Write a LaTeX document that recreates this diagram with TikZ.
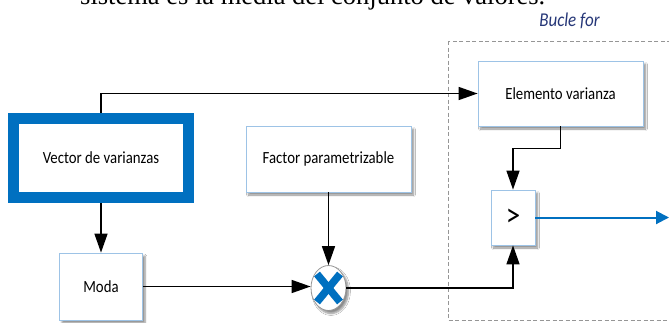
\documentclass[tikz,border=0pt]{standalone}
\usepackage{fontspec}
\setmainfont{Carlito}
\newfontfamily\serifx{Liberation Serif}
\usetikzlibrary{arrows.meta,shapes.geometric,shadows.blur}
\definecolor{boxedge}{RGB}{157,195,230}
\definecolor{vblue}{RGB}{0,112,192}
\definecolor{navy}{RGB}{38,55,120}
\definecolor{dashgray}{RGB}{150,150,150}
\newcommand\stretchtx[1]{\scalebox{1}[1.15]{#1}}
\begin{document}
\begin{tikzpicture}[x=1pt,y=-1pt,
  boxshadow/.style={blur shadow={shadow xshift=2.5pt,shadow yshift=-3pt,shadow blur steps=6,shadow opacity=45}},
  boxfont/.style={font=\fontsize{14.8}{16}\selectfont},
  lbox/.style={draw=boxedge,line width=0.8pt,fill=white,boxshadow,inner sep=0pt,boxfont},
  conn/.style={draw=black,line width=1.5pt,-{Triangle[length=19pt,width=13pt]}},
  bconn/.style={draw=vblue,line width=2pt,-{Triangle[length=13pt,width=13pt]}}
]
\useasboundingbox (0,0) rectangle (669,322);
\clip (0,0) rectangle (669,322);
\fill[white] (0,0) rectangle (669,322);

% caption fragment and loop label
\node[anchor=base west,inner sep=0pt,font=\serifx\fontsize{26.5}{30}\selectfont] (cap) at (80,4.5) {sistema es la media del conjunto de valores.};
\node[inner sep=0pt,text=navy,font=\itshape\fontsize{17}{19}\selectfont] (loop) at (569.5,21) {\stretchtx{Bucle for}};
\draw[dashgray,line width=0.8pt,dash pattern=on 4pt off 2.5pt] (448,41) rectangle (690,320);

% nodes
\node[draw=vblue,line width=11pt,fill=white,boxshadow,inner sep=0pt,minimum width=175pt,minimum height=79pt,boxfont] (vec) at (101,158) {\stretchtx{Vector de varianzas}};
\node[lbox,minimum width=165pt,minimum height=66pt] (fac) at (328.5,159) {\stretchtx{Factor parametrizable}};
\node[lbox,minimum width=83pt,minimum height=67pt] (moda) at (101,286.5) {\stretchtx{Moda}};
\node[lbox,minimum width=165pt,minimum height=65pt] (elem) at (560.5,93.5) {\stretchtx{Elemento varianza}};
\node[lbox,minimum width=44pt,minimum height=55pt,font=\fontsize{29}{30}\selectfont] (gt) at (513,217.5) {\stretchtx{>}};
\node[ellipse,draw=dashgray,line width=0.8pt,fill=white,boxshadow,inner sep=0pt,minimum width=35pt,minimum height=45pt] (circ) at (328.5,288) {};
\draw[vblue,line width=7.5pt] (circ.center) ++(-11.5,-14) -- ++(23,28);
\draw[vblue,line width=7.5pt] (circ.center) ++(11.5,-14) -- ++(-23,28);

\coordinate (out) at (669,217.5);

% connectors
\draw[conn] (vec.north) |- (elem.west);
\draw[conn] (vec.south) -- (vec.south |- moda.north);
\draw[conn] (fac.south) -- (circ.north);
\draw[conn] (moda.east) -- (moda.east -| circ.west);
\draw[conn] (circ.east) -| (gt.south);
\draw[conn] (elem.south) -- ++(0,22) -| (gt.north);
\draw[bconn] (gt.east) -- (out);
\end{tikzpicture}
\end{document}
